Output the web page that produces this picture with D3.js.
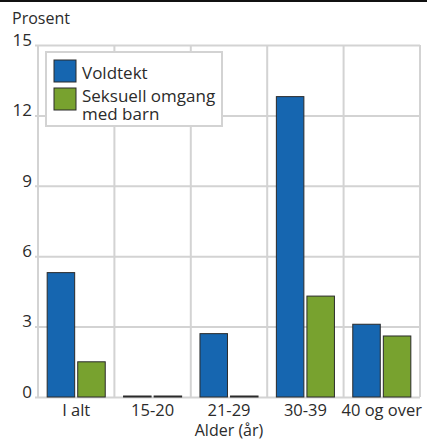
<!DOCTYPE html>
<html>
<head>
<meta charset="utf-8">
<script src="https://cdn.jsdelivr.net/npm/d3@7"></script>
<style>
  body { margin: 0; background: #fff; }
  text { font-family: "Open Sans", sans-serif; fill: #2b2b2b; }
</style>
</head>
<body>
<div id="chart"></div>
<script>
// Data
const categories = ["I alt", "15-20", "21-29", "30-39", "40 og over"];
const voldtekt = [5.3, 0, 2.7, 12.8, 3.1];
const seksuell = [1.5, 0, 0, 4.3, 2.6];
const seriesNames = ["Voldtekt", "Seksuell omgang med barn"];
const yTicks = [0, 3, 6, 9, 12, 15];

const W = 427, H = 441;
const margin = { top: 45, right: 7, bottom: 44, left: 38 };
const width = W - margin.left - margin.right;
const height = H - margin.top - margin.bottom;

const svg = d3.select("#chart")
    .append("svg")
    .attr("width", W)
    .attr("height", H);

// top rule
svg.append("line")
    .attr("x1", 0).attr("x2", W)
    .attr("y1", 1).attr("y2", 1)
    .attr("stroke", "#111")
    .attr("stroke-width", 2);

svg.append("text")
    .attr("x", 12)
    .attr("y", 24)
    .style("font-size", "16px")
    .text("Prosent");

const g = svg.append("g")
    .attr("transform", `translate(${margin.left},${margin.top})`);

const x = d3.scaleBand()
    .domain(categories)
    .range([0, width]);

const x1 = d3.scaleBand()
    .domain(seriesNames)
    .range([x.bandwidth() * 0.12, x.bandwidth() * 0.88])
    .paddingInner(0.1);

const y = d3.scaleLinear()
    .domain([0, 15])
    .range([height, 0]);

const gridColor = "#d3d3d3";

// horizontal grid
g.append("g")
    .call(d3.axisLeft(y).tickValues(yTicks).tickSize(-width - 3).tickFormat(""))
    .attr("transform", "translate(-3,0)")
    .call(s => s.select(".domain").remove())
    .selectAll("line")
    .attr("stroke", gridColor)
    .attr("stroke-width", 2);

// vertical grid
const bounds = categories.map(c => x(c)).concat([width]);
g.append("g")
    .selectAll("line")
    .data(bounds)
    .enter()
    .append("line")
    .attr("x1", d => d).attr("x2", d => d)
    .attr("y1", 0).attr("y2", height)
    .attr("stroke", gridColor)
    .attr("stroke-width", 2);

// y labels
g.append("g")
    .selectAll("text")
    .data(yTicks)
    .enter()
    .append("text")
    .attr("x", -6)
    .attr("y", d => y(d))
    .attr("dy", "0.05em")
    .attr("text-anchor", "end")
    .style("font-size", "17px")
    .text(d => d);

// bars
const colors = { "Voldtekt": "#1666b0", "Seksuell omgang med barn": "#78a22f" };
const rows = categories.map((c, i) => ({
    cat: c,
    vals: [
        { name: seriesNames[0], v: voldtekt[i] },
        { name: seriesNames[1], v: seksuell[i] }
    ]
}));

const groups = g.selectAll(".grp")
    .data(rows)
    .enter()
    .append("g")
    .attr("transform", d => `translate(${x(d.cat)},0)`);

groups.selectAll("rect")
    .data(d => d.vals)
    .enter()
    .append("rect")
    .attr("x", d => x1(d.name))
    .attr("width", x1.bandwidth())
    .attr("y", d => Math.min(y(d.v), height - 1))
    .attr("height", d => Math.max(height - y(d.v), 1))
    .attr("fill", d => colors[d.name])
    .attr("stroke", "#2a2a2a")
    .attr("stroke-width", 1);

// x labels
g.append("g")
    .selectAll("text")
    .data(categories)
    .enter()
    .append("text")
    .attr("x", d => x(d) + x.bandwidth() / 2)
    .attr("y", height + 19)
    .attr("text-anchor", "middle")
    .style("font-size", "16.5px")
    .text(d => d);

g.append("text")
    .attr("x", width / 2)
    .attr("y", height + 39)
    .attr("text-anchor", "middle")
    .style("font-size", "16px")
    .text("Alder (år)");

// legend
const lg = svg.append("g").attr("transform", "translate(46,52)");
lg.append("rect")
    .attr("width", 176)
    .attr("height", 74)
    .attr("fill", "#fff")
    .attr("stroke", gridColor)
    .attr("stroke-width", 2);

const legendLines = [["Voldtekt"], ["Seksuell omgang", "med barn"]];
seriesNames.forEach((name, i) => {
    lg.append("rect")
        .attr("x", 8)
        .attr("y", 8 + i * 28)
        .attr("width", 22)
        .attr("height", 22)
        .attr("fill", colors[name])
        .attr("stroke", "#2a2a2a")
        .attr("stroke-width", 1);
    const t = lg.append("text")
        .attr("x", 36)
        .attr("y", 27 + i * 23)
        .style("font-size", "17px");
    legendLines[i].forEach((ln, j) => {
        t.append("tspan")
            .attr("x", 36)
            .attr("dy", j === 0 ? 0 : 18)
            .text(ln);
    });
});
</script>
</body>
</html>
